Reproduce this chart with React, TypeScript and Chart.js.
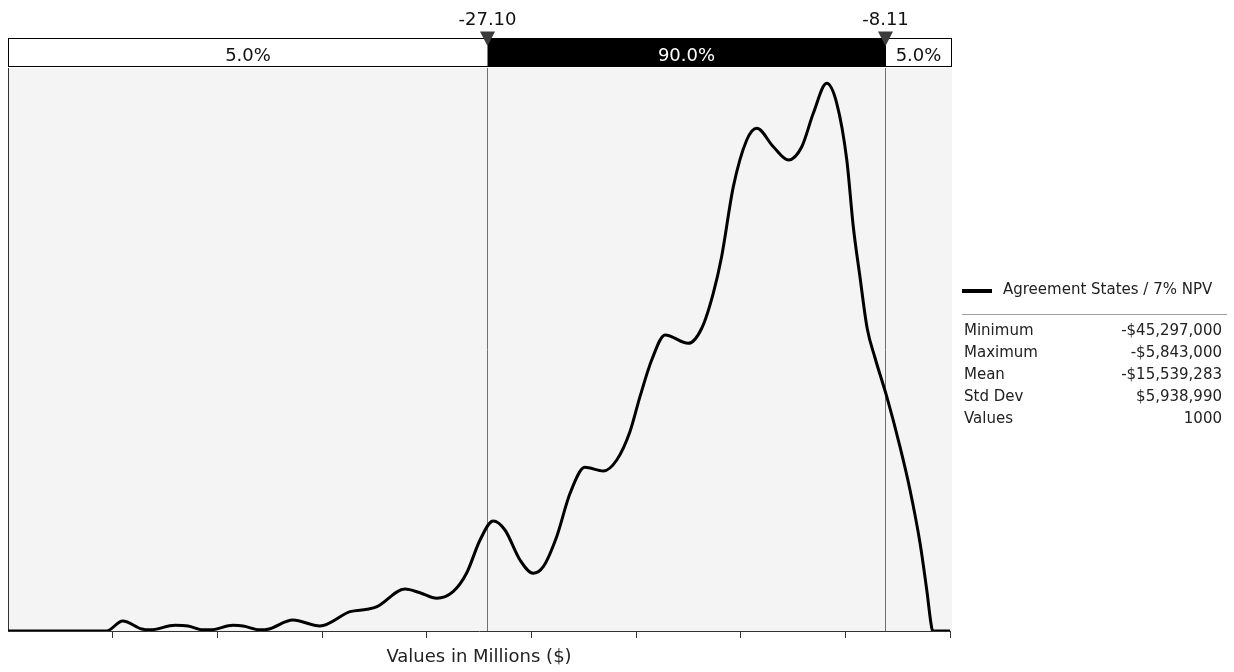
import React, { useEffect, useRef } from 'react';
import { Chart, registerables } from 'chart.js';

Chart.register(...registerables);

// ---- Data (values in millions of $) ----
const densityX = [
  -50, -45.3, -44.52, -43.61, -43.22, -42.02, -41.4, -40.68, -40.35, -39.25, -38.77,
  -37.96, -37.58, -36.39, -35.1, -33.66, -32.85, -32.37, -31.04, -30.32, -29.52,
  -28.74, -28.09, -27.45, -26.82, -26.26, -25.54, -24.91, -24.43, -23.79, -23.15,
  -22.44, -21.56, -20.92, -20.29, -19.81, -19.25, -18.61, -17.5, -16.86, -16.31,
  -15.91, -15.35, -14.71, -14.23, -13.44, -12.72, -12.08, -11.53, -10.89, -10.41,
  -9.93, -9.62, -9.3, -8.96, -8.58, -8.02, -7.39, -6.91, -6.43, -6.11, -5.87, -5.8, -5,
];
const densityY = [
  0, 0, 0.00178, 0.00036, 0.0002, 0.00101, 0.00089, 0.0002, 0.0002, 0.00101, 0.00089,
  0.0002, 0.0003, 0.00195, 0.00089, 0.00343, 0.00385, 0.00432, 0.00746, 0.0068, 0.00581,
  0.00698, 0.0103, 0.01616, 0.01954, 0.01794, 0.01261, 0.01025, 0.01142, 0.01675, 0.02446,
  0.02908, 0.02842, 0.03037, 0.0354, 0.04162, 0.04813, 0.05258, 0.0511, 0.05377, 0.05998,
  0.06648, 0.07892, 0.08721, 0.08929, 0.08602, 0.08366, 0.08602, 0.09195, 0.09728, 0.09373,
  0.08366, 0.07181, 0.06288, 0.05382, 0.04849, 0.04162, 0.03274, 0.02504, 0.01558, 0.00728,
  0.0005, 0, 0,
];
const seriesName = 'Agreement States / 7% NPV';
const xMin = -50;
const xMax = -5;
const xStep = 5;
const percentileValues = [-27.1, -8.11];
const percentileLabels = ['-27.10', '-8.11'];
const bandLabels = ['5.0%', '90.0%', '5.0%'];
const axisTitle = 'Values in Millions ($)';
const statLabels = ['Minimum', 'Maximum', 'Mean', 'Std Dev', 'Values'];
const statValues = ['-$45,297,000', '-$5,843,000', '-$15,539,283', '$5,938,990', '1000'];

const FONT = '"DejaVu Sans", Verdana, sans-serif';

const percentilePlugin = {
  id: 'percentileBar',
  beforeDraw(chart: any) {
    const { ctx, chartArea: a } = chart;
    ctx.save();
    ctx.fillStyle = '#f4f4f4';
    ctx.fillRect(a.left, a.top, a.right - a.left + 2, a.bottom - a.top);
    ctx.restore();
  },
  beforeDatasetsDraw(chart: any) {
    const { ctx, chartArea: a } = chart;
    const xs = chart.scales.x;
    ctx.save();
    ctx.strokeStyle = '#707070';
    ctx.lineWidth = 1;
    percentileValues.forEach((p) => {
      const px = Math.round(xs.getPixelForValue(p)) + 0.5;
      ctx.beginPath();
      ctx.moveTo(px, a.top);
      ctx.lineTo(px, a.bottom);
      ctx.stroke();
    });
    ctx.restore();
  },
  afterDraw(chart: any) {
    const { ctx, chartArea: a } = chart;
    const xs = chart.scales.x;
    const top = 38.5;
    const h = 28;
    const left = a.left + 0.5;
    const right = a.right + 1.5;
    const p1 = Math.round(xs.getPixelForValue(percentileValues[0])) + 0.5;
    const p2 = Math.round(xs.getPixelForValue(percentileValues[1])) + 0.5;
    ctx.save();
    ctx.fillStyle = '#ffffff';
    ctx.fillRect(left, top, right - left, h);
    ctx.fillStyle = '#000000';
    ctx.fillRect(p1, top, p2 - p1, h);
    ctx.strokeStyle = '#000000';
    ctx.lineWidth = 1;
    ctx.strokeRect(left, top, right - left, h);
    ctx.strokeRect(p2, top, right - p2, h);

    ctx.font = `18px ${FONT}`;
    ctx.textAlign = 'center';
    ctx.textBaseline = 'alphabetic';
    const bands = [
      [left, p1],
      [p1, p2],
      [p2, right],
    ];
    bands.forEach(([l, r], i) => {
      ctx.fillStyle = i === 1 ? '#ffffff' : '#111111';
      ctx.fillText(bandLabels[i], (l + r) / 2, 60.5);
    });

    [p1, p2].forEach((px, i) => {
      ctx.fillStyle = '#3c3c3c';
      ctx.beginPath();
      ctx.moveTo(px - 7.5, 31.5);
      ctx.lineTo(px + 7.5, 31.5);
      ctx.lineTo(px, 46);
      ctx.closePath();
      ctx.fill();
      ctx.fillStyle = '#111111';
      ctx.fillText(percentileLabels[i], px, 25);
    });
    ctx.restore();
  },
};

export default function App() {
  const ref = useRef<HTMLCanvasElement>(null);

  useEffect(() => {
    const canvas = ref.current;
    if (!canvas) return;
    const chart = new Chart(canvas, {
      type: 'line',
      data: {
        datasets: [
          {
            label: seriesName,
            data: densityX.map((x, i) => ({ x, y: densityY[i] })),
            borderColor: '#000000',
            borderWidth: 3,
            pointRadius: 0,
            fill: false,
            cubicInterpolationMode: 'monotone',
          },
        ],
      },
      options: {
        animation: false,
        responsive: false,
        maintainAspectRatio: false,
        devicePixelRatio: 1,
        events: [],
        layout: { padding: { left: 0, right: 284, top: 68, bottom: 0 } },
        plugins: {
          legend: { display: false },
          tooltip: { enabled: false },
          title: { display: false },
        },
        scales: {
          x: {
            type: 'linear',
            min: xMin,
            max: xMax,
            ticks: { display: false, stepSize: xStep },
            grid: {
              display: true,
              drawOnChartArea: false,
              drawTicks: true,
              tickLength: 7,
              color: (c: any) =>
                c.tick && c.tick.value === xMin ? 'rgba(0,0,0,0)' : '#333333',
            },
            border: { display: true, color: '#333333', width: 1 },
            title: {
              display: true,
              text: axisTitle,
              color: '#222222',
              font: { family: FONT, size: 18 },
              padding: { top: 8.2, bottom: 4.2 },
            },
          },
          y: {
            type: 'linear',
            min: 0,
            max: 0.1,
            ticks: { display: false },
            grid: { display: false },
            border: { display: true, color: '#333333', width: 1 },
          },
        },
      },
      plugins: [percentilePlugin],
    } as any);
    return () => chart.destroy();
  }, []);

  const textStyle: React.CSSProperties = {
    position: 'absolute',
    fontFamily: FONT,
    fontSize: 15,
    lineHeight: '22px',
    color: '#222222',
    whiteSpace: 'nowrap',
  };

  return (
    <div
      style={{
        position: 'absolute',
        left: 0,
        top: 0,
        width: 1234,
        height: 672,
        background: '#ffffff',
        overflow: 'hidden',
      }}
    >
      <canvas
        ref={ref}
        width={1234}
        height={672}
        style={{ position: 'absolute', left: 0, top: 0, width: 1234, height: 672 }}
      />
      <div
        style={{
          position: 'absolute',
          left: 962,
          top: 288.5,
          width: 30,
          height: 4,
          background: '#000000',
        }}
      />
      <div style={{ ...textStyle, left: 1003, top: 278 }}>{seriesName}</div>
      <div
        style={{
          position: 'absolute',
          left: 962,
          top: 314,
          width: 265,
          height: 1,
          background: '#a0a0a0',
        }}
      />
      {statLabels.map((lab, i) => (
        <React.Fragment key={lab}>
          <div style={{ ...textStyle, left: 964, top: 319 + i * 22 }}>{lab}</div>
          <div style={{ ...textStyle, right: 12, top: 319 + i * 22, textAlign: 'right' }}>
            {statValues[i]}
          </div>
        </React.Fragment>
      ))}
    </div>
  );
}
